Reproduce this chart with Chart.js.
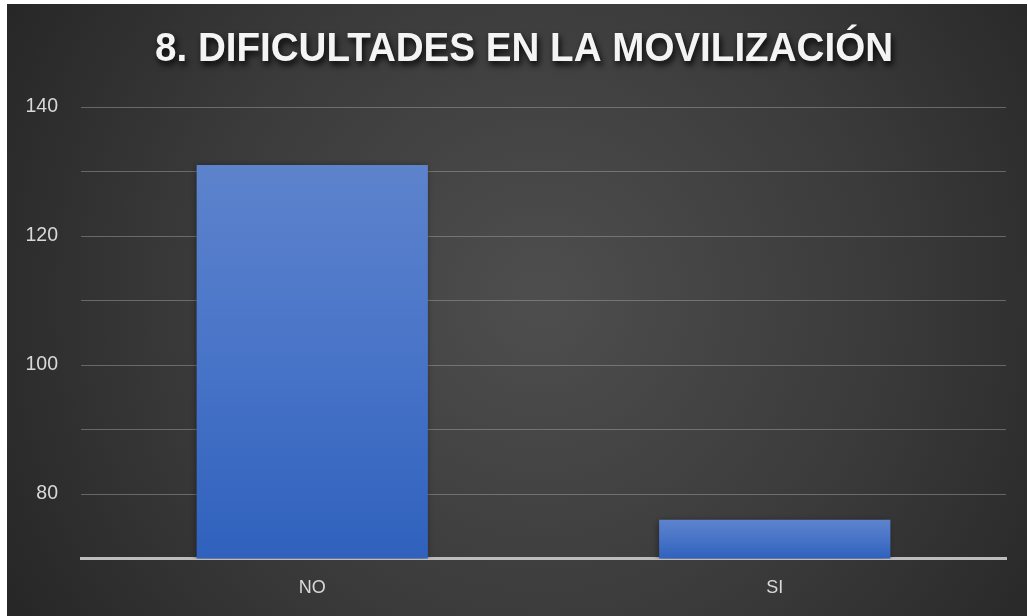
<!DOCTYPE html>
<html>
<head>
<meta charset="utf-8">
<script src="https://cdn.jsdelivr.net/npm/chart.js@4.4.1/dist/chart.umd.min.js"></script>
<style>
html,body{margin:0;padding:0;background:#fff;}
#wrap{position:relative;width:1028px;height:616px;}
</style>
</head>
<body>
<div id="wrap"><canvas id="c" width="1028" height="616"></canvas></div>
<script>
const chartTitle = "8. DIFICULTADES EN LA MOVILIZACIÓN";
const categories = ["NO", "SI"];
const values = [131, 76];
const yMin = 70, yMax = 140, yStep = 10;
const labelledTicks = [80, 100, 120, 140];

const bgPlugin = {
  id: 'bg',
  beforeDraw(chart) {
    const ctx = chart.ctx;
    ctx.save();
    ctx.fillStyle = '#ffffff';
    ctx.fillRect(0, 0, chart.width, chart.height);
    const g = ctx.createRadialGradient(540, 300, 20, 540, 300, 620);
    g.addColorStop(0, '#4d4d4d');
    g.addColorStop(0.55, '#3a3a3a');
    g.addColorStop(1, '#262626');
    ctx.fillStyle = g;
    ctx.fillRect(7, 4, 1020, 612);
    ctx.restore();
  }
};

const titlePlugin = {
  id: 'customTitle',
  afterDraw(chart) {
    const ctx = chart.ctx;
    ctx.save();
    ctx.font = 'bold 41px "Liberation Sans", Arial, sans-serif';
    const w = ctx.measureText(chartTitle).width;
    const target = 738;
    const sx = target / w;
    ctx.translate(524, 50);
    ctx.scale(sx, 1);
    ctx.textAlign = 'center';
    ctx.textBaseline = 'middle';
    ctx.shadowColor = 'rgba(0,0,0,0.9)';
    ctx.shadowBlur = 6;
    ctx.shadowOffsetX = 2;
    ctx.shadowOffsetY = 4;
    ctx.fillStyle = '#f4f4f4';
    ctx.fillText(chartTitle, 0, 0);
    ctx.restore();
  }
};

const shadowPlugin = {
  id: 'barShadow',
  beforeDatasetsDraw(chart) {
    const ctx = chart.ctx;
    ctx.save();
    ctx.shadowColor = 'rgba(0,0,0,0.45)';
    ctx.shadowBlur = 7;
    ctx.shadowOffsetX = -1;
    ctx.shadowOffsetY = 1;
  },
  afterDatasetsDraw(chart) {
    chart.ctx.restore();
  }
};

function barGradient(context) {
  const chart = context.chart;
  const y = chart.scales && chart.scales.y;
  if (!y || context.dataIndex === undefined) return '#4472c4';
  const top = y.getPixelForValue(values[context.dataIndex]);
  const bottom = y.getPixelForValue(yMin);
  if (!isFinite(top) || !isFinite(bottom) || top === bottom) return '#4472c4';
  const g = chart.ctx.createLinearGradient(0, top, 0, bottom);
  g.addColorStop(0, '#5d83cc');
  g.addColorStop(0.5, '#4874c8');
  g.addColorStop(1, '#2f61bd');
  return g;
}

new Chart(document.getElementById('c'), {
  type: 'bar',
  data: {
    labels: categories,
    datasets: [{
      data: values,
      backgroundColor: barGradient,
      borderWidth: 0,
      barPercentage: 0.5,
      categoryPercentage: 1.0
    }]
  },
  options: {
    responsive: false,
    animation: false,
    devicePixelRatio: 1,
    layout: { padding: { left: 0, right: 22, top: 107, bottom: 0 } },
    plugins: {
      legend: { display: false },
      title: { display: false },
      tooltip: { enabled: false }
    },
    scales: {
      x: {
        grid: { display: false, drawTicks: false },
        border: { display: true, color: '#bdbdbd', width: 3 },
        ticks: {
          color: '#d9d9d9',
          padding: 19,
          font: { family: '"Liberation Sans", Arial, sans-serif', size: 18 }
        },
        afterFit(scale) { scale.height = 57.5; }
      },
      y: {
        min: yMin,
        max: yMax,
        border: { display: false },
        grid: {
          drawTicks: false,
          lineWidth: 1,
          color: (ctx) => (ctx.tick && ctx.tick.value === yMin) ? 'rgba(0,0,0,0)' : 'rgba(170,170,170,0.45)'
        },
        ticks: {
          stepSize: yStep,
          color: '#d9d9d9',
          padding: 23,
          font: { family: '"Liberation Sans", Arial, sans-serif', size: 19.5 },
          callback: (v) => labelledTicks.includes(v) ? String(v) : ''
        },
        afterFit(scale) { scale.width = 81; }
      }
    }
  },
  plugins: [bgPlugin, shadowPlugin, titlePlugin]
});
</script>
</body>
</html>
